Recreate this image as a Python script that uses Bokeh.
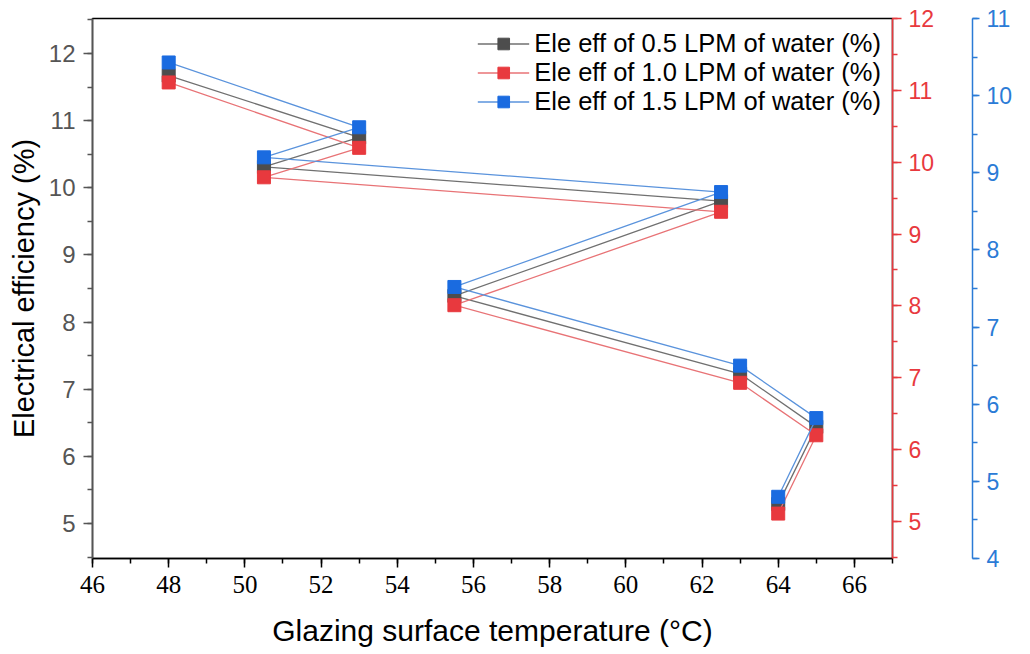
from bokeh.plotting import figure
from bokeh.models import Range1d, LinearAxis, Legend, LegendItem, SingleIntervalTicker
from bokeh.embed import file_html
from bokeh.resources import INLINE

# Data
temperature = [48, 53, 50.5, 62.5, 55.5, 63, 65, 64]
eff_05 = [11.67, 10.75, 10.31, 9.80, 8.39, 7.23, 6.44, 5.29]   # left axis
eff_10 = [11.11, 10.20, 9.79, 9.31, 8.01, 6.93, 6.20, 5.11]    # red axis
eff_15 = [10.43, 9.59, 9.20, 8.75, 7.52, 6.50, 5.82, 4.80]     # blue axis
labels = ["Ele eff of 0.5 LPM of water (%)",
          "Ele eff of 1.0 LPM of water (%)",
          "Ele eff of 1.5 LPM of water (%)"]

FONT = "Liberation Sans"
BLK_M, BLK_L = "#4d4d4d", "#707070"
RED_M, RED_L, RED_A = "#e8393e", "#e87376", "#e8393e"
BLU_M, BLU_L, BLU_A = "#1a6be0", "#5a93dc", "#2b7bd6"

p = figure(frame_width=800, frame_height=540,
           x_range=Range1d(46, 67), y_range=Range1d(4.48, 12.52),
           output_backend="svg", toolbar_location=None,
           min_border_left=92, min_border_top=18, min_border_bottom=80,
           min_border_right=60)
p.extra_y_ranges = {"red": Range1d(4.485, 12), "blue": Range1d(4, 11)}
p.xgrid.visible = False
p.ygrid.visible = False
p.outline_line_color = "black"
p.outline_line_width = 1.5
p.background_fill_color = "white"
p.border_fill_color = "white"

# x axis
xa = p.xaxis[0]
xa.ticker = SingleIntervalTicker(interval=2, num_minor_ticks=2)
xa.axis_label = "Glazing surface temperature (°C)"
xa.axis_label_text_font = FONT
xa.axis_label_text_font_size = "30px"
xa.axis_label_text_font_style = "normal"
xa.axis_label_text_color = "black"
xa.axis_label_standoff = 18
xa.major_label_text_font = "Liberation Sans Narrow"
xa.major_label_text_font_size = "25px"
xa.major_label_text_color = "black"
xa.major_label_standoff = 8
xa.axis_line_color = "black"
xa.axis_line_width = 1.5
xa.major_tick_out = 9
xa.major_tick_in = 0
xa.minor_tick_out = 5
xa.minor_tick_in = 0
xa.major_tick_line_color = "black"
xa.minor_tick_line_color = "black"
xa.major_tick_line_width = 1.5
xa.minor_tick_line_width = 1.5

# left axis
ya = p.yaxis[0]
ya.ticker = SingleIntervalTicker(interval=1, num_minor_ticks=2)
ya.axis_label = "Electrical efficiency (%)"
ya.axis_label_text_font = FONT
ya.axis_label_text_font_size = "29px"
ya.axis_label_text_font_style = "normal"
ya.axis_label_text_color = "black"
ya.axis_label_standoff = 6
ya.major_label_text_font = FONT
ya.major_label_text_font_size = "24px"
ya.major_label_text_color = "#555555"
ya.major_label_standoff = 8
ya.axis_line_color = "#555555"
ya.axis_line_width = 1.5
ya.major_tick_out = 9
ya.major_tick_in = 0
ya.minor_tick_out = 5
ya.minor_tick_in = 0
ya.major_tick_line_color = "#555555"
ya.minor_tick_line_color = "#555555"
ya.major_tick_line_width = 1.5
ya.minor_tick_line_width = 1.5


def style_axis(ax, color):
    ax.ticker = SingleIntervalTicker(interval=1, num_minor_ticks=2)
    ax.major_label_text_font = FONT
    ax.major_label_text_font_size = "23px"
    ax.major_label_text_color = color
    ax.major_label_standoff = 7
    ax.axis_line_color = color
    ax.axis_line_width = 1.5
    ax.major_tick_out = 9
    ax.major_tick_in = 0
    ax.minor_tick_out = 5
    ax.minor_tick_in = 0
    ax.major_tick_line_color = color
    ax.minor_tick_line_color = color
    ax.major_tick_line_width = 1.5
    ax.minor_tick_line_width = 1.5


red_axis = LinearAxis(y_range_name="red")
style_axis(red_axis, RED_A)
red_axis.axis_label = " "
red_axis.axis_label_text_font_size = "20px"
red_axis.axis_label_standoff = 10
p.add_layout(red_axis, "right")

blue_axis = LinearAxis(y_range_name="blue")
style_axis(blue_axis, BLU_A)
blue_axis.major_tick_out = 7
p.add_layout(blue_axis, "right")

# series
l1 = p.line(temperature, eff_05, line_color=BLK_L, line_width=1.3)
s1 = p.scatter(temperature, eff_05, marker="square", size=13,
               fill_color=BLK_M, line_color=BLK_M)
l2 = p.line(temperature, eff_10, line_color=RED_L, line_width=1.3, y_range_name="red")
s2 = p.scatter(temperature, eff_10, marker="square", size=13,
               fill_color=RED_M, line_color=RED_M, y_range_name="red")
l3 = p.line(temperature, eff_15, line_color=BLU_L, line_width=1.3, y_range_name="blue")
s3 = p.scatter(temperature, eff_15, marker="square", size=13,
               fill_color=BLU_M, line_color=BLU_M, y_range_name="blue")

legend = Legend(items=[LegendItem(label=labels[0], renderers=[l1, s1]),
                       LegendItem(label=labels[1], renderers=[l2, s2]),
                       LegendItem(label=labels[2], renderers=[l3, s3])],
                location="top_right")
legend.label_text_font = FONT
legend.label_text_font_size = "25.5px"
legend.label_text_color = "black"
legend.glyph_width = 52
legend.glyph_height = 29
legend.label_height = 29
legend.label_standoff = 5
legend.spacing = 0
legend.padding = 4
legend.margin = 11
legend.border_line_color = None
legend.background_fill_alpha = 0
p.add_layout(legend)

open("out.html", "w").write(file_html(p, INLINE))
